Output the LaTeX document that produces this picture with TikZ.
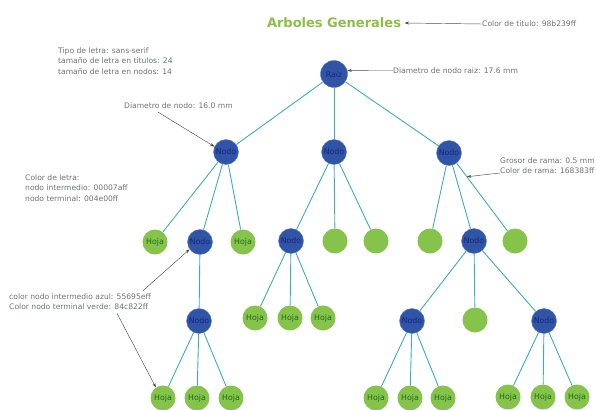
\documentclass[tikz,border=0pt]{standalone}
\usepackage{fontspec}
\setmainfont{DejaVu Sans}
\usetikzlibrary{arrows.meta,positioning,calc}
\definecolor{AGTitle}{HTML}{8DBE45}
\definecolor{AGBlue}{HTML}{3155A6}
\definecolor{AGBlueLine}{HTML}{5C7CC0}
\definecolor{AGBlueText}{HTML}{1A2380}
\definecolor{AGGreen}{HTML}{86C34A}
\definecolor{AGGreenText}{HTML}{1C6A1C}
\definecolor{AGBranch}{HTML}{3AAFB8}
\definecolor{AGNote}{HTML}{6E7272}
\begin{document}
\begin{tikzpicture}[x=1pt,y=-1pt,
  inner/.style={circle,fill=AGBlue,draw=AGBlueLine,line width=0.4pt,minimum size=25pt,inner sep=0pt,
               text=AGBlueText,font=\fontsize{7.8}{9}\selectfont},
  leaf/.style={circle,fill=AGGreen,minimum size=25pt,inner sep=0pt,
               text=AGGreenText,font=\fontsize{7.8}{9}\selectfont},
  rama/.style={draw=AGBranch,line width=0.9pt},
  note/.style={anchor=west,align=left,inner sep=0pt,text=AGNote,font=\fontsize{7.6}{10.3}\selectfont},
  notearrow/.style={-{Stealth[length=4.5pt,width=3pt]},draw=black!70,line width=0.45pt}
]
\useasboundingbox (0,0) rectangle (596,409);
% titulo
\node[font=\bfseries\fontsize{13}{15}\selectfont,text=AGTitle] (titulo) at (334,23) {Arboles Generales};
% arbol
\node[inner,minimum size=27pt] (raiz) at (334,74) {Raíz};
\node[inner] (n1) at (226,152) {Nodo};
\node[inner] (n2) at (334,152) {Nodo};
\node[inner] (n3) at (449,153) {Nodo};
\node[leaf] (h11) at (155,242) {Hoja};
\node[inner] (n11) at (200,242) {Nodo};
\node[leaf] (h12) at (243,242) {Hoja};
\node[inner] (n21) at (291,241) {Nodo};
\node[leaf] (e21) at (335,241) {};
\node[leaf] (e22) at (376,241) {};
\node[leaf] (e31) at (430,241) {};
\node[inner] (n31) at (474,241) {Nodo};
\node[leaf] (e32) at (515,241) {};
\node[inner] (n111) at (199,321) {Nodo};
\node[leaf] (h211) at (255,318) {Hoja};
\node[leaf] (h212) at (290,318) {Hoja};
\node[leaf] (h213) at (323,318) {Hoja};
\node[inner] (n311) at (412,321) {Nodo};
\node[leaf] (e311) at (475,320) {};
\node[inner] (n312) at (544,321) {Nodo};
\node[leaf] (h1111) at (163,398) {Hoja};
\node[leaf] (h1112) at (197,398) {Hoja};
\node[leaf] (h1113) at (231,398) {Hoja};
\node[leaf] (h3111) at (376,398) {Hoja};
\node[leaf] (h3112) at (410,398) {Hoja};
\node[leaf] (h3113) at (443,398) {Hoja};
\node[leaf] (h3121) at (508,397) {Hoja};
\node[leaf] (h3122) at (543,397) {Hoja};
\node[leaf] (h3123) at (577,397) {Hoja};
\foreach \a/\b in {raiz/n1,raiz/n2,raiz/n3,n1/h11,n1/n11,n1/h12,n2/n21,n2/e21,n2/e22,
  n3/e31,n3/n31,n3/e32,n11/n111,n21/h211,n21/h212,n21/h213,n31/n311,n31/e311,n31/n312,
  n111/h1111,n111/h1112,n111/h1113,n311/h3111,n311/h3112,n311/h3113,n312/h3121,n312/h3122,n312/h3123}
  {\draw[rama] (\a) -- (\b);}
% notas
\node[note] (tnote) at (482,24) {Color de titulo: 98b239ff};
\node[note] (rnote) at (393,70.5) {Diametro de nodo raiz: 17.6 mm};
\node[note] (fnote) at (58,61) {Tipo de letra: sans-serif\\tamaño de letra en titulos: 24\\tamaño de letra en nodos: 14};
\node[note] (dnote) at (124,106) {Diametro de nodo: 16.0 mm};
\node[note] (lnote) at (25,188) {Color de letra:\\nodo intermedio: 00007aff\\nodo terminal: 004e00ff};
\node[note] (cnote) at (9,302) {color nodo intermedio azul: 55695eff\\Color nodo terminal verde: 84c822ff};
\node[note] (gnote) at (500,166) {Grosor de rama: 0.5 mm\\Color de rama: 168383ff};
\coordinate (enrama) at ($(n3)!0.27!(e32)$);
\draw[notearrow] (tnote.west) -- (titulo.east);
\draw[notearrow] (rnote.west) -- (raiz.15);
\draw[notearrow] ([xshift=34pt,yshift=-3pt]dnote.south west) -- (n1.155);
\draw[notearrow] ([xshift=-8pt,yshift=3pt]cnote.north east) -- (n11.215);
\draw[notearrow] ([xshift=108pt,yshift=-3pt]cnote.south west) -- (h1111.124);
\draw[notearrow] ([yshift=-7pt]gnote.west) -- (enrama);
\end{tikzpicture}
\end{document}
